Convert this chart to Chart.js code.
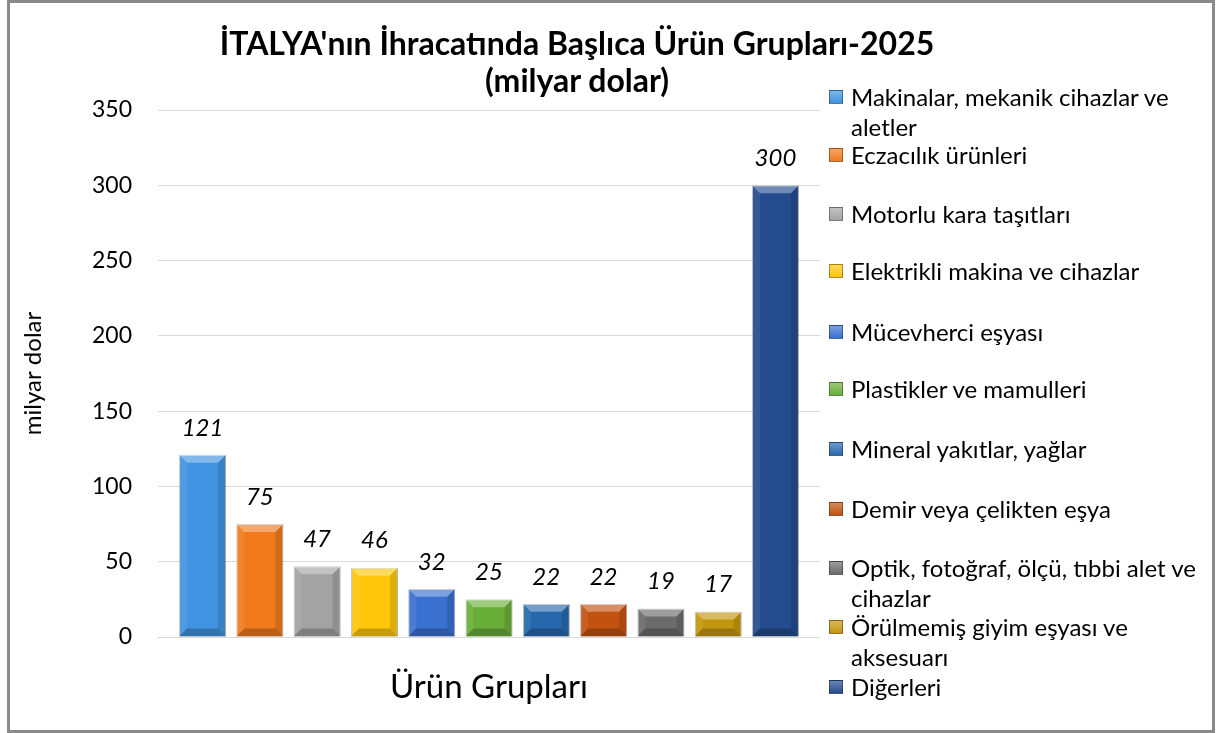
<!DOCTYPE html>
<html>
<head>
<meta charset="utf-8">
<script src="https://cdn.jsdelivr.net/npm/chart.js@4"></script>
<style>
  html, body { margin: 0; padding: 0; background: #fff; }
  #wrap { position: relative; width: 1219px; height: 733px; font-family: Lato, "Noto Sans", sans-serif; }
  #frame { position: absolute; left: 7px; top: 0px; width: 1202px; height: 727px; border: 3px solid #8a8a8a; box-sizing: content-box; pointer-events: none; }
  #cv { position: absolute; left: 0; top: 0; }
  .title { position: absolute; left: 577px; transform: translateX(-50%); white-space: nowrap; font-weight: bold; font-size: 32px; line-height: 38px; color: #000; }
  .leg { position: absolute; left: 829px; width: 382px; font-size: 24px; line-height: 30px; color: #000; }
  .leg .sw { position: absolute; left: 0; top: 8px; width: 14px; height: 14px; box-sizing: border-box; }
  .leg .tx { margin-left: 22px; }
</style>
</head>
<body>
<div id="wrap">
  <canvas id="cv" width="1219" height="733"></canvas>
  <div class="title" style="top:24px">İTALYA'nın İhracatında Başlıca Ürün Grupları-2025</div>
  <div class="title" style="top:61px">(milyar dolar)</div>
  <div id="legend"></div>
  <div id="frame"></div>
</div>
<script>
const category = ['Ürün Grupları'];
const groups = [
  'Makinalar, mekanik cihazlar ve aletler',
  'Eczacılık ürünleri',
  'Motorlu kara taşıtları',
  'Elektrikli makina ve cihazlar',
  'Mücevherci eşyası',
  'Plastikler ve mamulleri',
  'Mineral yakıtlar, yağlar',
  'Demir veya çelikten eşya',
  'Optik, fotoğraf, ölçü, tıbbi alet ve cihazlar',
  'Örülmemiş giyim eşyası ve aksesuarı',
  'Diğerleri'
];
const values = [121, 75, 47, 46, 32, 25, 22, 22, 19, 17, 300];
const colors = ['#3f93e0', '#f07a1c', '#a3a3a3', '#ffc60a', '#3a70d0', '#6aae3a', '#2768ad', '#c2520f', '#6b6b6b', '#c4960f', '#244b8e'];
const yTicks = [0, 50, 100, 150, 200, 250, 300, 350];

// legend in html so long names can wrap
const legendTops = [97, 155, 214, 271, 332, 389, 449, 509, 568, 627, 687];
const legend = document.getElementById('legend');
groups.forEach((g, i) => {
  const d = document.createElement('div');
  d.className = 'leg';
  d.style.top = (legendTops[i] - 15) + 'px';
  d.innerHTML = '<span class="sw" style="background:linear-gradient(180deg,' + colors[i] + 'aa,' + colors[i] + ');border:1px solid rgba(0,0,0,0.35)"></span><div class="tx">' + g + '</div>';
  legend.appendChild(d);
});

// beveled look on top of the plain bars
const bevel = {
  id: 'bevel',
  afterDatasetsDraw(chart) {
    const ctx = chart.ctx;
    chart.data.datasets.forEach((ds, i) => {
      chart.getDatasetMeta(i).data.forEach(bar => {
        const l = bar.x - bar.width / 2, r = bar.x + bar.width / 2;
        const t = bar.y, b = bar.base;
        const k = Math.min(8, (b - t) / 3);
        const poly = (pts, fill) => {
          ctx.beginPath();
          ctx.moveTo(pts[0][0], pts[0][1]);
          pts.slice(1).forEach(p => ctx.lineTo(p[0], p[1]));
          ctx.closePath();
          ctx.fillStyle = fill;
          ctx.fill();
        };
        ctx.save();
        poly([[l, t], [r, t], [r - k, t + k], [l + k, t + k]], 'rgba(255,255,255,0.35)');
        poly([[l, t], [l + k, t + k], [l + k, b - k], [l, b]], 'rgba(255,255,255,0.08)');
        poly([[r, t], [r - k, t + k], [r - k, b - k], [r, b]], 'rgba(0,0,0,0.12)');
        poly([[l, b], [l + k, b - k], [r - k, b - k], [r, b]], 'rgba(0,0,0,0.22)');
        ctx.restore();
      });
    });
  }
};

const valueLabels = {
  id: 'valueLabels',
  afterDatasetsDraw(chart) {
    const ctx = chart.ctx;
    ctx.save();
    ctx.font = 'italic 24px Lato, "Noto Sans", sans-serif';
    ctx.fillStyle = '#000';
    ctx.textAlign = 'center';
    ctx.textBaseline = 'middle';
    chart.data.datasets.forEach((ds, i) => {
      chart.getDatasetMeta(i).data.forEach((bar, j) => {
        ctx.fillText(ds.data[j], bar.x, bar.y - 27);
      });
    });
    ctx.restore();
  }
};

new Chart(document.getElementById('cv'), {
  type: 'bar',
  data: {
    labels: category,
    datasets: groups.map((g, i) => ({
      label: g,
      data: [values[i]],
      backgroundColor: colors[i],
      borderColor: 'rgba(0,0,0,0.25)',
      borderWidth: 1,
      categoryPercentage: 0.952,
      barPercentage: 0.82
    }))
  },
  options: {
    responsive: false,
    animation: false,
    layout: { padding: { left: 10, right: 399, top: 110, bottom: 0 } },
    plugins: {
      legend: { display: false },
      title: { display: false },
      tooltip: { enabled: false }
    },
    scales: {
      x: {
        grid: { display: false, drawTicks: false },
        border: { display: false },
        ticks: { color: '#000', font: { size: 33, family: 'Lato' }, padding: 31 },
        afterFit(s) { s.height = 96; }
      },
      y: {
        min: 0,
        max: 350,
        afterBuildTicks(s) { s.ticks = yTicks.map(v => ({ value: v })); },
        grid: { color: '#d9d9d9', drawTicks: false },
        border: { display: false },
        ticks: { color: '#000', font: { size: 23, family: 'Lato' }, padding: 26 },
        title: { display: true, text: 'milyar dolar', color: '#000', font: { size: 24, family: 'Lato' }, padding: { top: 9, bottom: 0 } },
        afterFit(s) { s.width = 148; }
      }
    }
  },
  plugins: [bevel, valueLabels]
});
</script>
</body>
</html>
